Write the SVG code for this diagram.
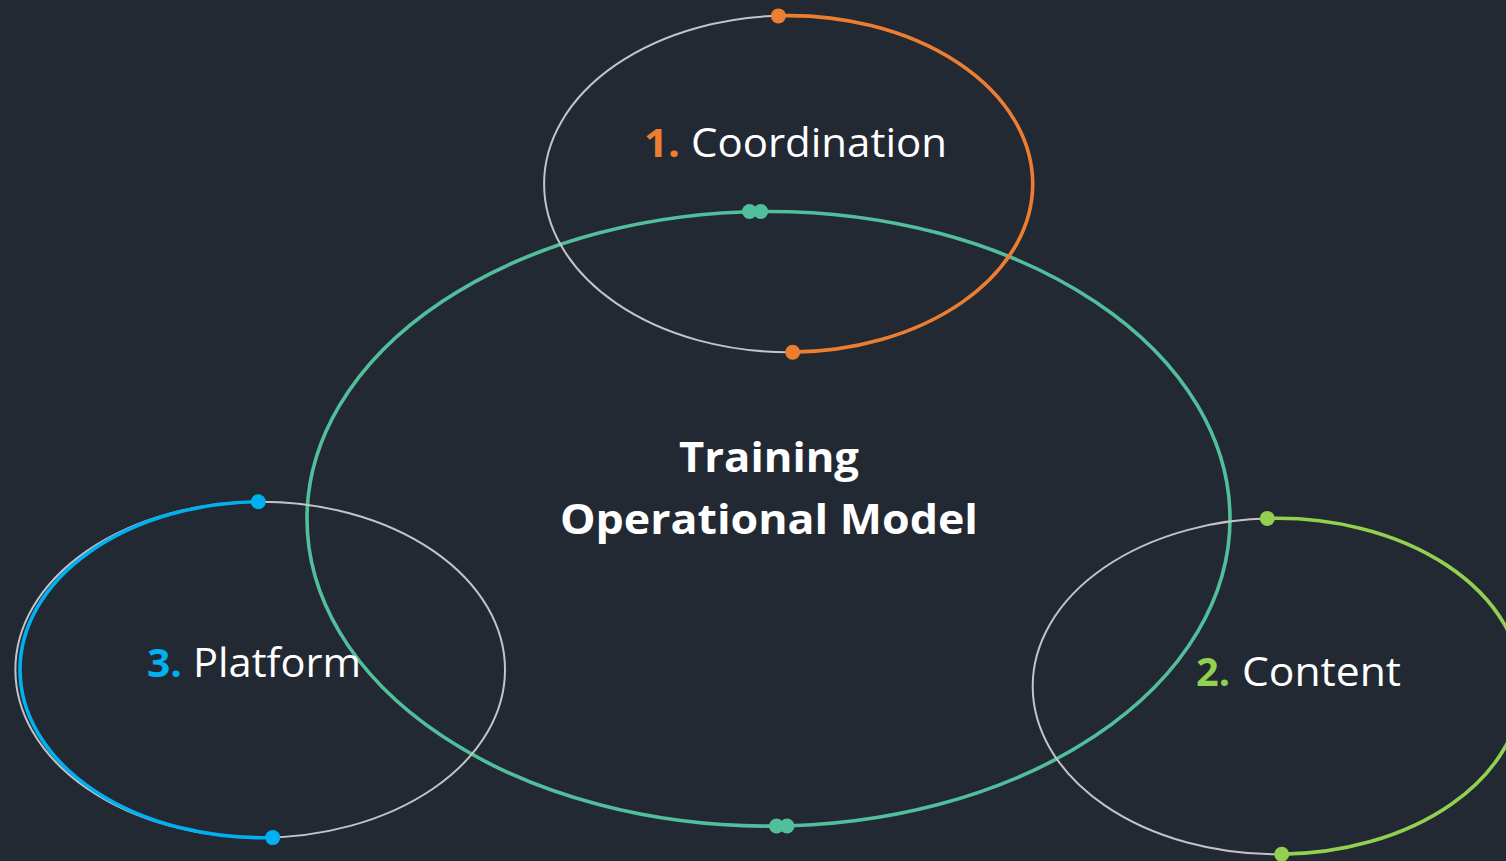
<svg xmlns="http://www.w3.org/2000/svg" width="1506" height="861" viewBox="0 0 1506 861">
  <style>
    .ring { fill: none; stroke: #C4C4C4; stroke-width: 2; }
    .arc { fill: none; stroke-width: 3.6; stroke-linecap: round; }
    .lbl { font-family: "Open Sans", "Noto Sans", "DejaVu Sans", sans-serif; font-size: 40px; fill: #FFFFFF; }
    .num { font-family: "Open Sans", "Noto Sans", "DejaVu Sans", sans-serif; font-size: 40px; font-weight: bold; }
    .title { font-family: "Open Sans", "Noto Sans", "DejaVu Sans", sans-serif; font-size: 42px; font-weight: bold; fill: #FFFFFF; }
    .orange { fill: #ED7D31; }
    .blue { fill: #00B0F0; }
    .green { fill: #92D050; }
    .teal { fill: #52BF9C; }
  </style>
  <rect x="0" y="0" width="1506" height="861" fill="#222933"/>

  <g id="training-model">
    <ellipse cx="768.5" cy="518.8" rx="461.5" ry="307.3" fill="none" stroke="#52BF9C" stroke-width="3.6"/>
    <circle class="teal" cx="749.5" cy="211.5" r="7.5"/>
    <circle class="teal" cx="760.7" cy="211.5" r="7.5"/>
    <circle class="teal" cx="776.5" cy="826" r="7.5"/>
    <circle class="teal" cx="787" cy="826" r="7.5"/>
    <text class="title" x="769" y="472" text-anchor="middle" textLength="180" lengthAdjust="spacingAndGlyphs">Training</text>
    <text class="title" x="769" y="534" text-anchor="middle" textLength="418" lengthAdjust="spacingAndGlyphs">Operational Model</text>
  </g>

  <g id="coordination">
    <ellipse class="ring" cx="788.4" cy="183.9" rx="244.3" ry="168.3"/>
    <path class="arc" stroke="#ED7D31" d="M 778.4 15.741 A 244.3 168.3 0 0 1 1032.7 183.9 A 244.3 168.3 0 0 1 792.7 352.174"/>
    <circle class="orange" cx="778.4" cy="15.9" r="7.5"/>
    <circle class="orange" cx="792.7" cy="352.2" r="7.5"/>
    <text class="num orange" x="644" y="157" textLength="36" lengthAdjust="spacingAndGlyphs">1.</text>
    <text class="lbl" x="691" y="157" textLength="256" lengthAdjust="spacingAndGlyphs">Coordination</text>
  </g>

  <g id="content">
    <ellipse class="ring" cx="1277.2" cy="686.3" rx="244.5" ry="168"/>
    <path class="arc" stroke="#92D050" d="M 1267.3 518.438 A 244.5 168 0 0 1 1521.7 686.3 A 244.5 168 0 0 1 1281.7 854.272"/>
    <circle class="green" cx="1267.3" cy="518.4" r="7.5"/>
    <circle class="green" cx="1281.7" cy="854.3" r="7.5"/>
    <text class="num green" x="1196" y="686" textLength="34" lengthAdjust="spacingAndGlyphs">2.</text>
    <text class="lbl" x="1242" y="686" textLength="159" lengthAdjust="spacingAndGlyphs">Content</text>
  </g>

  <g id="platform">
    <ellipse class="ring" cx="260.2" cy="669.7" rx="244.8" ry="168"/>
    <path class="arc" stroke="#00B0F0" d="M 258.3 501.725 A 242.5 168 0 0 0 20 669.7 A 242.5 168 0 0 0 272.7 837.551"/>
    <circle class="blue" cx="258.3" cy="501.7" r="7.5"/>
    <circle class="blue" cx="272.7" cy="837.6" r="7.5"/>
    <text class="num blue" x="147" y="677" textLength="35" lengthAdjust="spacingAndGlyphs">3.</text>
    <text class="lbl" x="193" y="677" textLength="168" lengthAdjust="spacingAndGlyphs">Platform</text>
  </g>
</svg>
